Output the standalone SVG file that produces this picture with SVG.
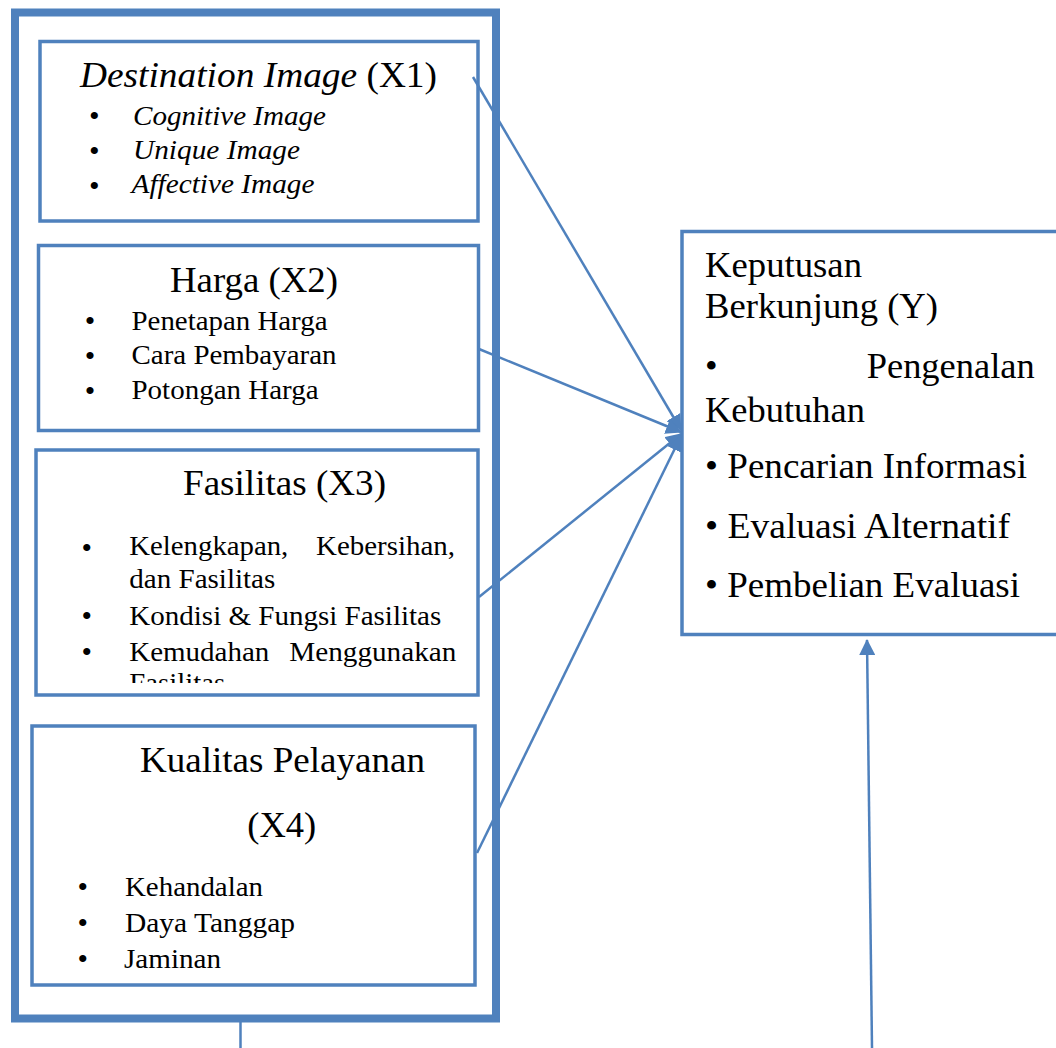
<svg xmlns="http://www.w3.org/2000/svg" width="1056" height="1048" viewBox="0 0 1056 1048">
<style>
.box{fill:none;stroke:#4F81BD;stroke-width:3.5}
.outer{fill:none;stroke:#4F81BD;stroke-width:8}
.conn{stroke:#4F81BD;stroke-width:2.5;fill:none}
.t{font-family:"Liberation Serif","Times New Roman",serif;fill:#000}
.ti{font-size:36px}
.li{font-size:27.5px}
.bu{font-size:30px;text-anchor:middle}
.it{font-style:italic}
.y{font-size:36px}
</style>
<defs>
<marker id="ah" markerUnits="userSpaceOnUse" markerWidth="16" markerHeight="16" viewBox="0 0 16 16" refX="15" refY="8" orient="auto">
<path d="M0,0 L16,8 L0,16 z" fill="#4F81BD"/>
</marker>
<clipPath id="clipX3"><rect x="36" y="450" width="442" height="233"/></clipPath>
</defs>
<rect width="1056" height="1048" fill="#fff"/>

<g id="outer">
<rect class="outer" x="15" y="12.5" width="481" height="1006"/>
</g>

<g id="X1">
<rect class="box" x="40" y="41.5" width="438" height="179.5"/>
<text class="t ti" x="80" y="87" textLength="357" lengthAdjust="spacingAndGlyphs"><tspan class="it">Destination Image</tspan> (X1)</text>
<text class="t bu it" x="94" y="126.3">•</text>
<text class="t bu it" x="94" y="161.3">•</text>
<text class="t bu it" x="94" y="196.3">•</text>
<text class="t li it" x="133" y="125" textLength="193" lengthAdjust="spacingAndGlyphs">Cognitive Image</text>
<text class="t li it" x="133" y="158.5" textLength="167" lengthAdjust="spacingAndGlyphs">Unique Image</text>
<text class="t li it" x="131.5" y="192.5" textLength="183" lengthAdjust="spacingAndGlyphs">Affective Image</text>
</g>

<g id="X2">
<rect class="box" x="38.5" y="245.5" width="440" height="185"/>
<text class="t ti" x="170" y="292" textLength="168" lengthAdjust="spacingAndGlyphs">Harga (X2)</text>
<text class="t bu" x="90" y="331.3">•</text>
<text class="t bu" x="90" y="366.3">•</text>
<text class="t bu" x="90" y="401.3">•</text>
<text class="t li" x="131.5" y="329.5" textLength="196" lengthAdjust="spacingAndGlyphs">Penetapan Harga</text>
<text class="t li" x="131.5" y="363.5" textLength="205" lengthAdjust="spacingAndGlyphs">Cara Pembayaran</text>
<text class="t li" x="131.5" y="398.5" textLength="187" lengthAdjust="spacingAndGlyphs">Potongan Harga</text>
</g>

<g id="X3">
<rect class="box" x="36" y="450" width="442" height="245"/>
<text class="t ti" x="183" y="495" textLength="203" lengthAdjust="spacingAndGlyphs">Fasilitas (X3)</text>
<text class="t bu" x="86.7" y="558">•</text>
<text class="t bu" x="86.7" y="626.3">•</text>
<text class="t bu" x="86.7" y="662.3">•</text>
<text class="t li" x="129.3" y="555" textLength="159" lengthAdjust="spacingAndGlyphs">Kelengkapan,</text>
<text class="t li" x="316" y="555" textLength="139" lengthAdjust="spacingAndGlyphs">Kebersihan,</text>
<text class="t li" x="129.3" y="588.3" textLength="146" lengthAdjust="spacingAndGlyphs">dan Fasilitas</text>
<text class="t li" x="129.3" y="625" textLength="312" lengthAdjust="spacingAndGlyphs">Kondisi &amp; Fungsi Fasilitas</text>
<text class="t li" x="129.3" y="660.7" textLength="140" lengthAdjust="spacingAndGlyphs">Kemudahan</text>
<text class="t li" x="289.3" y="660.7" textLength="167" lengthAdjust="spacingAndGlyphs">Menggunakan</text>
<text class="t li" x="129.3" y="692" textLength="96" lengthAdjust="spacingAndGlyphs" clip-path="url(#clipX3)">Fasilitas</text>
</g>

<g id="X4">
<rect class="box" x="32" y="726" width="443" height="259"/>
<text class="t ti" x="140" y="771.7" textLength="285" lengthAdjust="spacingAndGlyphs">Kualitas Pelayanan</text>
<text class="t ti" x="247.3" y="836.7" textLength="69" lengthAdjust="spacingAndGlyphs">(X4)</text>
<text class="t bu" x="82.7" y="897">•</text>
<text class="t bu" x="82.7" y="933">•</text>
<text class="t bu" x="82.7" y="969">•</text>
<text class="t li" x="125" y="896" textLength="138" lengthAdjust="spacingAndGlyphs">Kehandalan</text>
<text class="t li" x="125" y="931.7" textLength="170" lengthAdjust="spacingAndGlyphs">Daya Tanggap</text>
<text class="t li" x="124" y="967.7" textLength="97" lengthAdjust="spacingAndGlyphs">Jaminan</text>
</g>

<g id="Y">
<rect class="box" x="682" y="231.5" width="380" height="403"/>
<text class="t y" x="705" y="276.7" textLength="157" lengthAdjust="spacingAndGlyphs">Keputusan</text>
<text class="t y" x="705" y="318.3" textLength="233" lengthAdjust="spacingAndGlyphs">Berkunjung (Y)</text>
<text class="t y" x="705" y="378.3">•</text>
<text class="t y" x="866.7" y="378.3" textLength="168" lengthAdjust="spacingAndGlyphs">Pengenalan</text>
<text class="t y" x="705" y="421.7" textLength="160" lengthAdjust="spacingAndGlyphs">Kebutuhan</text>
<text class="t y" x="705" y="478.3" textLength="322" lengthAdjust="spacingAndGlyphs">• Pencarian Informasi</text>
<text class="t y" x="705" y="538.3" textLength="305" lengthAdjust="spacingAndGlyphs">• Evaluasi Alternatif</text>
<text class="t y" x="705" y="596.7" textLength="315" lengthAdjust="spacingAndGlyphs">• Pembelian Evaluasi</text>
</g>

<g id="connectors">
<line class="conn" x1="473" y1="77" x2="681" y2="430" marker-end="url(#ah)"/>
<line class="conn" x1="479" y1="349" x2="681" y2="432" marker-end="url(#ah)"/>
<line class="conn" x1="479" y1="597" x2="681" y2="434" marker-end="url(#ah)"/>
<line class="conn" x1="477" y1="853" x2="681" y2="436" marker-end="url(#ah)"/>
<line class="conn" x1="872" y1="1048" x2="867" y2="640" marker-end="url(#ah)"/>
<line class="conn" x1="240.5" y1="1022" x2="240.5" y2="1048"/>
</g>
</svg>
